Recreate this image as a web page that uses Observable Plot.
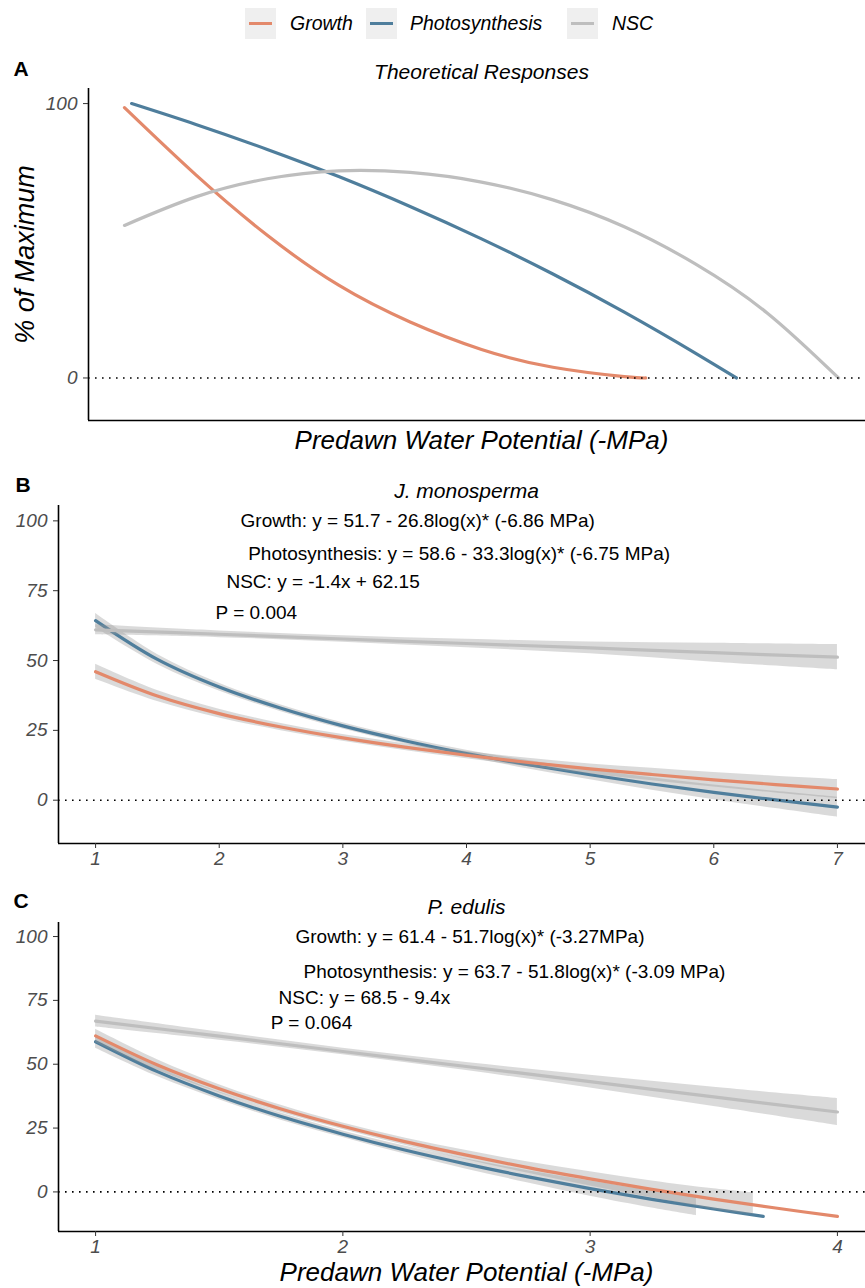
<!DOCTYPE html>
<html><head><meta charset="utf-8">
<script src="https://cdn.jsdelivr.net/npm/d3@7"></script>
<script src="https://cdn.jsdelivr.net/npm/@observablehq/plot@0.6"></script>
<style>
html,body{margin:0;padding:0;background:#fff;overflow:hidden;}
#root{position:relative;width:865px;height:1288px;font-family:"Liberation Sans",Arial,sans-serif;}
.panel{position:absolute;left:0;}
.key{position:absolute;top:8px;width:31px;height:31px;background:#efefef;}
.key span{position:absolute;left:4px;right:4px;top:14px;height:3px;}
.ltext{position:absolute;top:8px;height:31px;line-height:31px;font-style:italic;font-size:19.5px;color:#000;white-space:nowrap;}
</style></head><body><div id="root"></div>
<script>
// ---------- data ----------
const series = ["Growth", "Photosynthesis", "NSC"];
const seriesColors = ["#E3896B", "#4F7E9C", "#BEBEBE"];
const drawOrder = ["Photosynthesis", "Growth", "NSC"];

const yTicks = [0, 25, 50, 75, 100];
const aTicksY = [0, 100];
const bTicksX = [1, 2, 3, 4, 5, 6, 7];
const cTicksX = [1, 2, 3, 4];

// Panel A: theoretical responses (x in arbitrary units)
const aGrowthX = [0, 1, 2, 3, 4, 5, 6, 7, 7.3];
const aGrowthY = [98.5, 74.0, 52.0, 33.8, 20.4, 10.4, 3.9, 0.5, 0];
const aPhotoX = [0.1, 1, 2, 3, 4, 5, 6, 7, 8, 8.57];
const aPhotoY = [100, 92.4, 83.3, 73.4, 62.5, 50.7, 37.9, 24.0, 9.0, 0];
const aNscX = [0, 1, 2, 3, 4, 5, 6, 7, 8, 9, 10];
const aNscY = [55.6, 66.0, 72.6, 75.5, 74.9, 71.4, 64.9, 55.1, 41.5, 23.7, 0];

// Panel B: J. monosperma
const bX = [1, 1.5, 2, 2.5, 3, 3.5, 4, 4.5, 5, 5.5, 6, 6.5, 7];
const bGrowth = [46, 37.3, 31, 26.2, 22.3, 19, 16.1, 13.5, 11.2, 9.2, 7.3, 5.6, 4.0];
const bGrowthLo = [43.3, 35.3, 29.4, 24.9, 21.1, 17.8, 14.8, 12.0, 9.4, 7.0, 4.7, 2.6, 0.6];
const bGrowthHi = [48.7, 39.3, 32.6, 27.5, 23.5, 20.2, 17.4, 15.0, 13.0, 11.4, 9.9, 8.6, 7.4];
const bPhoto = [64.3, 50.4, 40.5, 32.9, 26.6, 21.3, 16.7, 12.7, 9.1, 5.8, 2.8, 0.1, -2.5];
const bPhotoLo = [61.8, 48.6, 39.1, 31.7, 25.5, 20.2, 15.5, 11.2, 7.3, 3.6, 0.2, -3.0, -6.1];
const bPhotoHi = [66.8, 52.2, 41.9, 34.1, 27.7, 22.4, 17.9, 14.2, 10.9, 8.0, 5.4, 3.2, 1.1];
const bNscX = [1, 2, 3, 4, 5, 6, 7];
const bNsc = [61.0, 59.4, 57.7, 56.1, 54.5, 52.8, 51.2];
const bNscLo = [59.2, 58.2, 56.55, 54.6, 52.4, 49.4, 46.7];
const bNscHi = [62.8, 60.6, 58.85, 57.6, 56.6, 56.2, 55.7];
const bNotes = ["Growth: y = 51.7 - 26.8log(x)* (-6.86 MPa)", "Photosynthesis: y = 58.6 - 33.3log(x)* (-6.75 MPa)", "NSC: y = -1.4x + 62.15", "P = 0.004"];
const bNoteX = [3.605, 3.94, 2.84, 2.30];
const bNoteY = [100, 88, 78, 67];

// Panel C: P. edulis
const cX = [1, 1.25, 1.5, 1.75, 2, 2.25, 2.5, 2.75, 3, 3.25, 3.5, 3.75, 4];
const cGrowth = [61.1, 49.7, 40.4, 32.5, 25.7, 19.7, 14.4, 9.5, 5.1, 1.0, -2.8, -6.3, -9.6];
const cGrowthBandX = [1, 1.25, 1.5, 1.75, 2, 2.25, 2.5, 2.75, 3, 3.25, 3.5, 3.66];
const cGrowthLo = [58.5, 47.6, 38.8, 31.1, 24.4, 18.3, 12.6, 7.3, 2.3, -2.3, -6.8, -8.8];
const cGrowthHi = [63.7, 51.8, 42.0, 33.9, 27.0, 21.1, 16.2, 11.7, 7.9, 4.3, 1.2, -0.4];
const cPhotoX = [1, 1.25, 1.5, 1.75, 2, 2.25, 2.5, 2.75, 3, 3.25, 3.5, 3.7];
const cPhoto = [58.8, 47.1, 37.6, 29.5, 22.6, 16.4, 10.9, 5.9, 1.3, -2.9, -6.7, -9.6];
const cPhotoBandX = [1, 1.25, 1.5, 1.75, 2, 2.25, 2.5, 2.75, 3, 3.25, 3.43];
const cPhotoLo = [56.3, 45.2, 36.1, 28.1, 21.3, 14.8, 8.9, 3.5, -1.7, -6.3, -9.3];
const cPhotoHi = [61.3, 49.0, 39.1, 30.9, 23.9, 18.0, 12.9, 8.3, 4.3, 0.5, -1.5];
const cNscX = [1, 1.5, 2, 2.5, 3, 3.5, 4];
const cNsc = [66.9, 61.0, 55.0, 49.1, 43.2, 37.2, 31.3];
const cNscLo = [64.6, 59.4, 53.7, 47.5, 40.7, 33.4, 26.0];
const cNscHi = [69.2, 62.6, 56.3, 50.7, 45.7, 41.0, 36.6];
const cNotes = ["Growth: y = 61.4 - 51.7log(x)* (-3.27MPa)", "Photosynthesis: y = 63.7 - 51.8log(x)* (-3.09 MPa)", "NSC: y = 68.5 - 9.4x", "P = 0.064"];
const cNoteX = [2.514, 2.694, 2.087, 1.873];
const cNoteY = [100, 86, 76, 66];

const xTitle = "Predawn Water Potential (-MPa)";
const yTitle = "% of Maximum";

// ---------- helpers ----------
const FONT = "'Liberation Sans', Arial, Helvetica, sans-serif";
const Y_DOMAIN = [-15.5, 105.5];
const lineRows = (xs, ys, s) => xs.map((x, i) => ({x, y: ys[i], s}));
const bandRows = (xs, lo, hi, s) => xs.map((x, i) => ({x, lo: lo[i], hi: hi[i], s}));

function buildPanel(cfg) {
  const marks = [];
  for (const s of drawOrder) {
    const band = cfg.bands ? cfg.bands[s] : null;
    if (band) marks.push(Plot.areaY(band, {x: "x", y1: "lo", y2: "hi", fill: "#999999", fillOpacity: 0.36, curve: cfg.curve}));
    const ln = cfg.lines[s];
    if (ln) marks.push(Plot.line(ln, {x: "x", y: "y", stroke: "s", strokeWidth: 3.2, curve: cfg.curve}));
  }
  // zero line
  marks.push(Plot.ruleY([0], {stroke: "#000", strokeWidth: 1.6, strokeDasharray: "1.6,5.4"}));
  // axis lines
  marks.push(Plot.ruleX([cfg.xDomain[0]], {stroke: "#000", strokeWidth: 1.6}));
  marks.push(Plot.ruleY([Y_DOMAIN[0]], {stroke: "#000", strokeWidth: 1.6}));
  // axes
  marks.push(Plot.axisY(cfg.yTicks, {tickSize: 5, tickPadding: 6, fontSize: 19, fontStyle: "italic", fill: "#4d4d4d", stroke: "#333", label: null, tickFormat: d => String(d)}));
  if (cfg.xTicks) marks.push(Plot.axisX(cfg.xTicks, {tickSize: 5, tickPadding: 3, fontSize: 19, fontStyle: "italic", fill: "#4d4d4d", stroke: "#333", label: null, tickFormat: d => String(d)}));
  // annotations
  if (cfg.notes) marks.push(Plot.text(cfg.notes, {x: (d, i) => cfg.noteX[i], y: (d, i) => cfg.noteY[i], text: d => d, fontSize: 19, fill: "#000", textAnchor: "middle", lineAnchor: "middle"}));
  // panel title, letter
  marks.push(Plot.text([cfg.title], {frameAnchor: "top", text: d => d, dx: 4.5, dy: cfg.titleDy, fontSize: 21, fontStyle: "italic", fill: "#000", lineAnchor: "middle"}));
  marks.push(Plot.text([cfg.letter], {frameAnchor: "top-left", text: d => d, dx: cfg.letterDx, dy: cfg.letterDy, fontSize: 21, fontWeight: "bold", fill: "#000", textAnchor: "start", lineAnchor: "middle"}));
  if (cfg.showXTitle) marks.push(Plot.text([xTitle], {frameAnchor: "bottom", text: d => d, dx: 4.5, dy: cfg.xTitleDy, fontSize: 26, fontStyle: "italic", fill: "#000", lineAnchor: "middle"}));
  if (cfg.showYTitle) marks.push(Plot.text([yTitle], {frameAnchor: "left", text: d => d, dx: cfg.yTitleDx, rotate: -90, fontSize: 27, fontStyle: "italic", fill: "#000", lineAnchor: "middle", textAnchor: "middle"}));

  const svg = Plot.plot({
    width: 865, height: cfg.height,
    marginLeft: cfg.ml, marginRight: 0, marginTop: cfg.mt, marginBottom: cfg.mb,
    x: {domain: cfg.xDomain, axis: null},
    y: {domain: Y_DOMAIN, axis: null},
    color: {domain: series, range: seriesColors},
    style: {fontFamily: FONT, background: "white", overflow: "visible"},
    marks
  });
  svg.classList.add("panel");
  svg.style.top = cfg.top + "px";
  return svg;
}

const root = document.getElementById("root");

// ---------- legend ----------
const keyLeft = [245, 366, 567];
const textLeft = [290, 410, 612];
series.forEach((s, i) => {
  const k = document.createElement("div");
  k.className = "key"; k.style.left = keyLeft[i] + "px";
  const sp = document.createElement("span"); sp.style.background = seriesColors[i];
  k.appendChild(sp); root.appendChild(k);
  const t = document.createElement("div");
  t.className = "ltext"; t.style.left = textLeft[i] + "px"; t.textContent = s;
  root.appendChild(t);
});

// ---------- panels ----------
root.appendChild(buildPanel({
  top: 50, height: 410, ml: 88, mt: 38, mb: 40, curve: "natural",
  xDomain: [-0.504, 10.378], yTicks: aTicksY, xTicks: null,
  lines: {
    Growth: lineRows(aGrowthX, aGrowthY, "Growth"),
    Photosynthesis: lineRows(aPhotoX, aPhotoY, "Photosynthesis"),
    NSC: lineRows(aNscX, aNscY, "NSC")
  },
  title: "Theoretical Responses", titleDy: -16,
  letter: "A", letterDx: -75, letterDy: -19.5,
  showXTitle: true, xTitleDy: 20,
  showYTitle: true, yTitleDx: -63
}));

root.appendChild(buildPanel({
  top: 465, height: 410, ml: 58, mt: 40, mb: 32, curve: "catmull-rom",
  xDomain: [0.7, 7.227], yTicks, xTicks: bTicksX,
  lines: {
    Growth: lineRows(bX, bGrowth, "Growth"),
    Photosynthesis: lineRows(bX, bPhoto, "Photosynthesis"),
    NSC: lineRows(bNscX, bNsc, "NSC")
  },
  bands: {
    Growth: bandRows(bX, bGrowthLo, bGrowthHi, "Growth"),
    Photosynthesis: bandRows(bX, bPhotoLo, bPhotoHi, "Photosynthesis"),
    NSC: bandRows(bNscX, bNscLo, bNscHi, "NSC")
  },
  notes: bNotes, noteX: bNoteX, noteY: bNoteY,
  title: "J. monosperma", titleDy: -14,
  letter: "B", letterDx: -43, letterDy: -20
}));

root.appendChild(buildPanel({
  top: 880, height: 408, ml: 58, mt: 42, mb: 57, curve: "catmull-rom",
  xDomain: [0.85, 4.1136], yTicks, xTicks: cTicksX,
  lines: {
    Growth: lineRows(cX, cGrowth, "Growth"),
    Photosynthesis: lineRows(cPhotoX, cPhoto, "Photosynthesis"),
    NSC: lineRows(cNscX, cNsc, "NSC")
  },
  bands: {
    Growth: bandRows(cGrowthBandX, cGrowthLo, cGrowthHi, "Growth"),
    Photosynthesis: bandRows(cPhotoBandX, cPhotoLo, cPhotoHi, "Photosynthesis"),
    NSC: bandRows(cNscX, cNscLo, cNscHi, "NSC")
  },
  notes: cNotes, noteX: cNoteX, noteY: cNoteY,
  title: "P. edulis", titleDy: -15,
  letter: "C", letterDx: -45, letterDy: -21,
  showXTitle: true, xTitleDy: 41
}));
</script></body></html>
